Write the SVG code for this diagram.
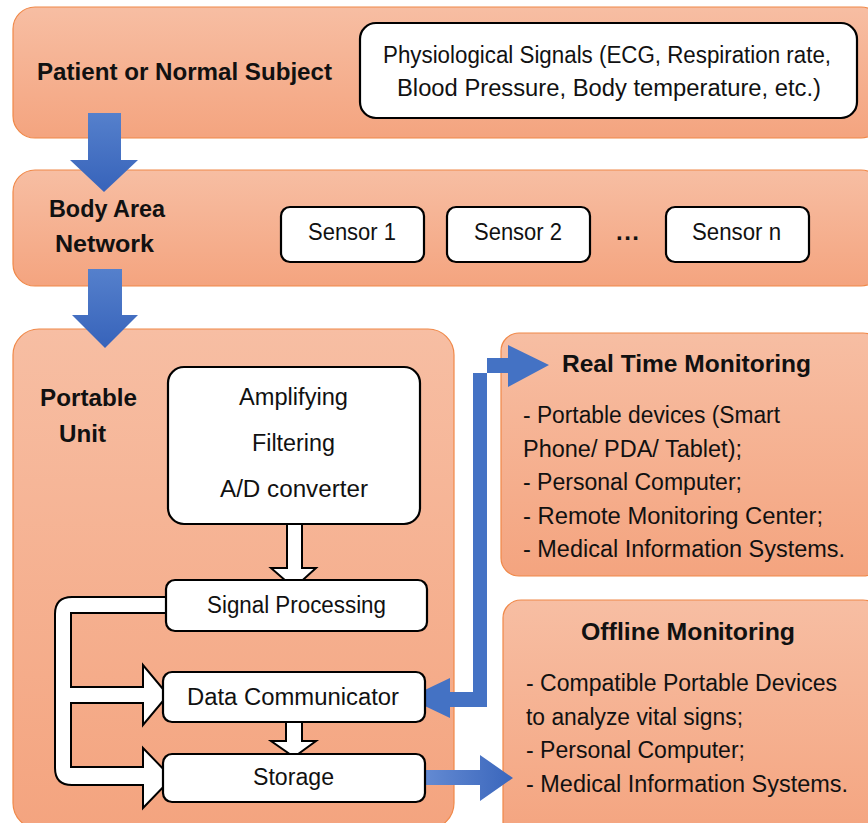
<svg xmlns="http://www.w3.org/2000/svg" width="868" height="823" viewBox="0 0 868 823">
<defs>
<linearGradient id="pg" x1="0" y1="0" x2="0" y2="1">
<stop offset="0" stop-color="#F7BEA3"/>
<stop offset="1" stop-color="#F4A47F"/>
</linearGradient>
<linearGradient id="bg" x1="0" y1="0" x2="0" y2="1">
<stop offset="0" stop-color="#5580CC"/>
<stop offset="1" stop-color="#3763BA"/>
</linearGradient>
<linearGradient id="bh" x1="0" y1="0" x2="1" y2="0">
<stop offset="0" stop-color="#6A90D6"/>
<stop offset="1" stop-color="#3A66BC"/>
</linearGradient>
<style>
.panel{fill:url(#pg);stroke:#F08848;stroke-width:1.2}
.box{fill:#fff;stroke:#000;stroke-width:2.2}
.t{font-family:"Liberation Sans",Arial,sans-serif;font-size:23px;fill:#111}
.b{font-family:"Liberation Sans",Arial,sans-serif;font-size:24px;font-weight:bold;fill:#111}
.wa{fill:#fff;stroke:#000;stroke-width:2;stroke-linejoin:miter}
</style>
</defs>

<g id="panel-patient">
<rect class="panel" x="13" y="7" width="870" height="131" rx="22"/>
<text class="b" x="37" y="80" textLength="295" lengthAdjust="spacingAndGlyphs">Patient or Normal Subject</text>
</g>
<g id="physio">
<rect class="box" x="360" y="23" width="497" height="95" rx="16"/>
<text class="t" x="383" y="63" textLength="448" lengthAdjust="spacingAndGlyphs">Physiological Signals (ECG, Respiration rate,</text>
<text class="t" x="397" y="96" textLength="424" lengthAdjust="spacingAndGlyphs">Blood Pressure, Body temperature, etc.)</text>
</g>

<g id="panel-ban">
<rect class="panel" x="13" y="170" width="870" height="116" rx="22"/>
<text class="b" x="49" y="217" textLength="116" lengthAdjust="spacingAndGlyphs">Body Area</text>
<text class="b" x="55" y="252" textLength="99" lengthAdjust="spacingAndGlyphs">Network</text>
<text class="b" x="616" y="240" textLength="23">...</text>
</g>
<g id="sensor1">
<rect class="box" x="281" y="207" width="143" height="55" rx="9"/>
<text class="t" x="308" y="240" textLength="88" lengthAdjust="spacingAndGlyphs">Sensor 1</text>
</g>
<g id="sensor2">
<rect class="box" x="447" y="207" width="143" height="55" rx="9"/>
<text class="t" x="474" y="240" textLength="88" lengthAdjust="spacingAndGlyphs">Sensor 2</text>
</g>
<g id="sensorn">
<rect class="box" x="666" y="207" width="143" height="55" rx="9"/>
<text class="t" x="692" y="240" textLength="89" lengthAdjust="spacingAndGlyphs">Sensor n</text>
</g>

<g id="panel-portable">
<rect class="panel" x="13" y="329" width="441" height="500" rx="26"/>
<text class="b" x="40" y="406" textLength="97" lengthAdjust="spacingAndGlyphs">Portable</text>
<text class="b" x="59" y="442" textLength="47" lengthAdjust="spacingAndGlyphs">Unit</text>
</g>

<g id="panel-realtime">
<rect class="panel" x="501" y="333" width="380" height="243" rx="18"/>
<text class="b" x="562" y="372" textLength="249" lengthAdjust="spacingAndGlyphs">Real Time Monitoring</text>
<text class="t" x="523" y="423" textLength="257" lengthAdjust="spacingAndGlyphs">- Portable devices (Smart</text>
<text class="t" x="523" y="457" textLength="219" lengthAdjust="spacingAndGlyphs">Phone/ PDA/ Tablet);</text>
<text class="t" x="523" y="490" textLength="219" lengthAdjust="spacingAndGlyphs">- Personal Computer;</text>
<text class="t" x="523" y="524" textLength="300" lengthAdjust="spacingAndGlyphs">- Remote Monitoring Center;</text>
<text class="t" x="523" y="557" textLength="322" lengthAdjust="spacingAndGlyphs">- Medical Information Systems.</text>
</g>

<g id="panel-offline">
<rect class="panel" x="503" y="600" width="378" height="240" rx="18"/>
<text class="b" x="581" y="640" textLength="214" lengthAdjust="spacingAndGlyphs">Offline Monitoring</text>
<text class="t" x="526" y="691" textLength="311" lengthAdjust="spacingAndGlyphs">- Compatible Portable Devices</text>
<text class="t" x="526" y="725" textLength="217" lengthAdjust="spacingAndGlyphs">to analyze vital signs;</text>
<text class="t" x="526" y="758" textLength="219" lengthAdjust="spacingAndGlyphs">- Personal Computer;</text>
<text class="t" x="526" y="792" textLength="322" lengthAdjust="spacingAndGlyphs">- Medical Information Systems.</text>
</g>

<g id="connectors">
<polygon fill="url(#bg)" points="88,113 121,113 121,160 138,160 104,192 70,160 88,160"/>
<polygon fill="url(#bg)" points="88,269 122,269 122,315 138,315 105,348 72,315 88,315"/>
<polygon fill="#4472C4" points="408,698 450,678 450,692 473,692 473,373 508,373 508,387 549,365 508,345 508,358 487,358 487,707 450,707 450,718"/>
<polygon fill="url(#bh)" points="411,770 480,770 480,755 513,778 480,801 480,785 411,785"/>
<path class="wa" d="M166,597 L72,597 Q55,597 55,614 L55,768 Q55,785 72,785 L143,785 L143,808 L172,778 L143,748 L143,767 L71,767 L71,703 L143,703 L143,725 L168,695 L143,665 L143,687 L71,687 L71,613 L166,613"/>
<polygon class="wa" points="287,524 302,524 302,568 316,568 294,588 271,568 287,568"/>
<polygon class="wa" points="286,722 302,722 302,741 316,741 294,757 271,741 286,741"/>
</g>

<g id="amp">
<rect class="box" x="168" y="367" width="252" height="157" rx="16"/>
<text class="t" x="239" y="405" textLength="109" lengthAdjust="spacingAndGlyphs">Amplifying</text>
<text class="t" x="252" y="451" textLength="83" lengthAdjust="spacingAndGlyphs">Filtering</text>
<text class="t" x="220" y="497" textLength="148" lengthAdjust="spacingAndGlyphs">A/D converter</text>
</g>
<g id="sigproc">
<rect class="box" x="166" y="580" width="261" height="51" rx="9"/>
<text class="t" x="207" y="613" textLength="179" lengthAdjust="spacingAndGlyphs">Signal Processing</text>
</g>
<g id="datacomm">
<rect class="box" x="163" y="672" width="262" height="50" rx="9"/>
<text class="t" x="187" y="705" textLength="212" lengthAdjust="spacingAndGlyphs">Data Communicator</text>
</g>
<g id="storage">
<rect class="box" x="163" y="754" width="262" height="48" rx="9"/>
<text class="t" x="253" y="785" textLength="81" lengthAdjust="spacingAndGlyphs">Storage</text>
</g>
</svg>
